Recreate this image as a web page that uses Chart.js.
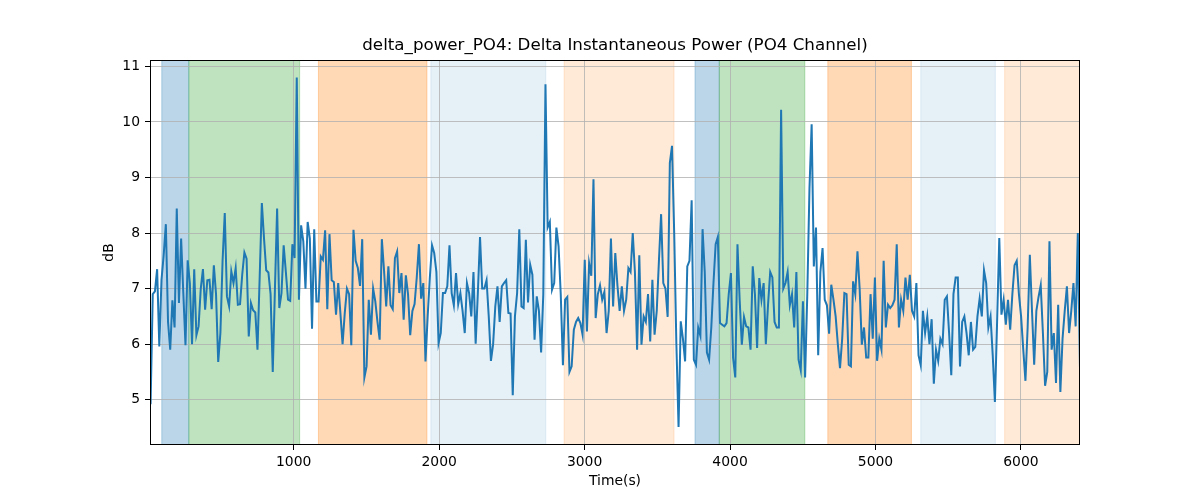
<!DOCTYPE html>
<html>
<head>
<meta charset="utf-8">
<script src="https://cdn.jsdelivr.net/npm/chart.js@4.4.1/dist/chart.umd.min.js"></script>
<style>
  html, body { margin: 0; padding: 0; background: #ffffff; }
  #wrap { width: 1200px; height: 500px; }
</style>
</head>
<body>
<div id="wrap"><canvas id="c" width="1200" height="500"></canvas></div>
<script>
// ---------------- data ----------------
const chartTitle = 'delta_power_PO4: Delta Instantaneous Power (PO4 Channel)';
const xLabel = 'Time(s)';
const yLabel = 'dB';

// regular sampling grid of the recording
const T_START = 16;
const T_STEP = 15;

// delta power values (dB), one per sample
const powerDb = [
  4.92, 6.9, 6.95, 7.35, 5.96, 7.16, 7.6, 8.16, 6.4, 5.9,
  6.79, 6.3, 8.44, 6.74, 7.9, 6.92, 5.98, 7.51, 7.1, 6.0,
  7.35, 6.16, 6.32, 7.0, 7.35, 6.62, 7.15, 7.16, 6.63, 7.42,
  6.9, 5.68, 6.2, 7.5, 8.36, 6.86, 6.68, 7.31, 7.1, 7.37,
  6.71, 6.72, 7.25, 7.65, 7.54, 6.14, 6.74, 6.61, 6.57, 5.9,
  7.2, 8.54, 7.9, 7.33, 7.29,
  6.9, 5.5, 7.0, 8.44, 6.65, 6.92, 7.78, 7.3, 6.8, 6.78,
  7.8, 7.55, 10.8, 6.8, 8.14, 7.85, 7.0, 8.2, 7.9, 6.28,
  8.07, 6.77, 6.77, 7.58, 7.52, 8.05, 6.63, 7.98, 7.15, 7.12,
  6.53, 7.1, 6.56, 6.0, 6.56, 7.0, 6.9, 5.98, 8.06, 7.5,
  7.37, 7.05, 7.89, 5.4, 5.6, 6.8, 6.17, 7.0, 6.77, 6.4,
  6.08, 7.89, 7.33, 6.68, 7.4,
  6.7, 6.63, 7.55, 7.67, 6.92, 7.28, 6.44, 7.24, 6.9, 6.16,
  6.6, 6.72, 7.2, 7.8, 6.82, 7.1, 5.69, 6.5, 7.2, 7.78,
  7.64, 7.3, 6.02, 6.2, 6.92, 6.92, 7.04, 7.78, 6.92, 6.7,
  7.28, 6.72, 6.92, 6.6, 6.2, 7.1, 6.92, 6.5, 7.3, 6.01,
  6.92, 7.93, 7.0, 7.0, 7.15, 6.5, 5.7, 6.0, 6.68, 7.04,
  6.4, 7.04, 7.1, 7.15, 6.56,
  6.55, 5.08, 6.5, 6.92, 8.07, 6.68, 6.65, 7.88, 6.75, 7.43,
  7.25, 6.08, 6.86, 6.6, 5.85, 6.9, 10.68, 8.1, 8.2, 6.98,
  7.1, 8.1, 7.76, 6.9, 5.62, 6.8, 6.85, 5.5, 5.6, 6.26,
  6.4, 6.47, 6.38, 6.17, 7.52, 6.23, 7.46, 7.23, 8.97, 6.47,
  6.9, 7.06, 6.8, 6.94, 6.2, 6.6, 7.9, 6.68, 7.64, 7.05,
  6.6, 7.04, 6.6, 6.8, 7.37,
  7.3, 8.0, 7.3, 5.9, 7.6, 5.99, 6.5, 6.4, 6.9, 6.05,
  7.16, 6.17, 6.6, 7.5, 8.34, 7.1, 7.0, 6.49, 9.26, 9.57,
  8.0, 6.0, 4.51, 6.41, 6.1, 5.69, 7.4, 7.5, 8.59, 5.72,
  5.63, 6.3, 6.15, 8.07, 7.3, 5.85, 5.72, 6.3, 7.1, 7.8,
  7.93, 6.38, 6.35, 6.32, 6.38, 6.9, 7.28, 5.75, 5.4, 7.8,
  6.8, 5.99, 6.49, 6.32, 6.3,
  5.9, 7.4, 6.9, 5.93, 7.19, 6.8, 7.1, 6.0, 6.7, 7.3,
  7.2, 6.4, 6.3, 6.3, 10.22, 7.0, 7.1, 7.3, 6.7, 6.9,
  6.3, 7.3, 5.72, 5.53, 6.77, 5.4, 6.9, 8.8, 9.96, 7.4,
  8.1, 5.8, 7.3, 7.73, 6.8, 6.7, 6.19, 7.07, 6.8, 6.5,
  6.0, 5.57, 6.1, 6.92, 6.9, 5.63, 5.6, 7.13, 6.9, 7.67,
  7.0, 5.99, 6.3, 5.76, 5.76,
  6.9, 6.1, 7.2, 5.7, 6.1, 5.9, 7.5, 6.3, 6.71, 6.65,
  6.7, 6.8, 7.8, 6.3, 6.8, 6.6, 7.2, 6.8, 7.25, 6.6,
  6.5, 7.1, 5.8, 5.62, 6.6, 6.2, 6.5, 6.0, 6.45, 5.29,
  5.9, 5.7, 6.1, 6.0, 6.8, 6.86, 6.2, 5.44, 6.9, 7.2,
  7.2, 5.6, 6.4, 6.5, 6.2, 5.8, 6.4, 5.9, 5.95, 6.5,
  6.82, 6.5, 7.33, 7.1, 6.3,
  6.5, 5.8, 4.96, 6.4, 7.91, 6.53, 6.8, 6.35, 6.8, 6.26,
  6.9, 7.42, 7.5, 6.9, 6.5, 5.9, 5.34, 6.3, 7.61, 6.6,
  5.63, 6.6, 6.85, 7.06, 6.2, 5.25, 5.5, 7.85, 5.9, 6.2,
  5.3, 6.71, 5.14, 6.1, 6.6, 7.04, 6.2, 6.6, 7.1, 6.32,
  8.0, 5.56
];
const timeSec = powerDb.map((_, i) => T_START + i * T_STEP);

// shaded intervals (seconds) and their kind
const spanStart = [93, 279, 1170, 1943, 2859, 3759, 3926, 4672, 5311, 5888];
const spanEnd   = [279, 1041, 1916, 2733, 3615, 3926, 4514, 5247, 5824, 6600];
const spanKind  = ['A', 'B', 'C', 'D', 'E', 'A', 'B', 'C', 'D', 'E'];

// axis ticks
const xTicks = [1000, 2000, 3000, 4000, 5000, 6000];
const yTicks = [5, 6, 7, 8, 9, 10, 11];
const xMin = 12, xMax = 6406;
const yMin = 4.185, yMax = 11.115;

// ---------------- styles ----------------
const spanColors = {
  A: 'rgba(31,119,180,0.3)',
  B: 'rgba(44,160,44,0.3)',
  C: 'rgba(255,127,14,0.3)',
  D: 'rgba(31,119,180,0.11)',
  E: 'rgba(255,127,14,0.16)'
};
const FONT = "'DejaVu Sans', sans-serif";

const spanPlugin = {
  id: 'spans',
  beforeDraw(chart) {
    const { ctx, chartArea: a, scales: { x } } = chart;
    ctx.save();
    ctx.beginPath();
    ctx.rect(a.left, a.top, a.right - a.left, a.bottom - a.top);
    ctx.clip();
    for (let i = 0; i < spanStart.length; i++) {
      const x0 = x.getPixelForValue(spanStart[i]);
      const x1 = x.getPixelForValue(spanEnd[i]);
      ctx.fillStyle = spanColors[spanKind[i]];
      ctx.fillRect(x0, a.top, x1 - x0, a.bottom - a.top);
      ctx.strokeStyle = spanColors[spanKind[i]];
      ctx.lineWidth = 1;
      ctx.strokeRect(x0, a.top - 2, x1 - x0, a.bottom - a.top + 4);
    }
    ctx.restore();
  },
  afterDraw(chart) {
    const { ctx, chartArea: a } = chart;
    ctx.save();
    ctx.strokeStyle = '#000';
    ctx.lineWidth = 1;
    ctx.strokeRect(Math.round(a.left) + 0.5, Math.round(a.top) + 0.5,
                   Math.round(a.right - a.left) - 1, Math.round(a.bottom - a.top) - 1);
    // title centred over the plot area
    ctx.fillStyle = '#000';
    ctx.font = "16.7px " + FONT;
    ctx.textAlign = 'center';
    ctx.textBaseline = 'middle';
    ctx.fillText(chartTitle, (a.left + a.right) / 2, 46);
    ctx.restore();
  }
};

Chart.defaults.color = '#000';
Chart.defaults.font.family = FONT;

new Chart(document.getElementById('c'), {
  type: 'line',
  data: {
    datasets: [{
      data: timeSec.map((t, i) => ({ x: t, y: powerDb[i] })),
      borderColor: '#1f77b4',
      borderWidth: 2,
      pointRadius: 0,
      tension: 0,
      fill: false
    }]
  },
  options: {
    responsive: false,
    animation: false,
    events: [],
    layout: { padding: { left: 0, right: 120, top: 60, bottom: 0 } },
    plugins: {
      legend: { display: false },
      tooltip: { enabled: false },
      title: { display: false }
    },
    scales: {
      x: {
        type: 'linear',
        min: xMin, max: xMax,
        afterBuildTicks: s => { s.ticks = xTicks.map(v => ({ value: v })); },
        afterFit: s => { s.height = 55; },
        ticks: { font: { size: 13.9 }, padding: 4, maxRotation: 0, callback: v => String(v) },
        grid: { color: '#b0b0b0', lineWidth: 0.8, tickColor: '#000', tickLength: 5, tickWidth: 1 },
        border: { display: false },
        title: { display: true, text: xLabel, font: { size: 13.9 }, padding: { top: 0, bottom: 10.5 } }
      },
      y: {
        type: 'linear',
        min: yMin, max: yMax,
        afterBuildTicks: s => { s.ticks = yTicks.map(v => ({ value: v })); },
        afterFit: s => { s.width = 150; },
        ticks: { font: { size: 13.9 }, padding: 5, callback: v => String(v) },
        grid: { color: '#b0b0b0', lineWidth: 0.8, tickColor: '#000', tickLength: 5, tickWidth: 1 },
        border: { display: false },
        title: { display: true, text: yLabel, font: { size: 13.9 }, padding: { top: 101.5, bottom: 0 } }
      }
    }
  },
  plugins: [spanPlugin]
});
</script>
</body>
</html>
